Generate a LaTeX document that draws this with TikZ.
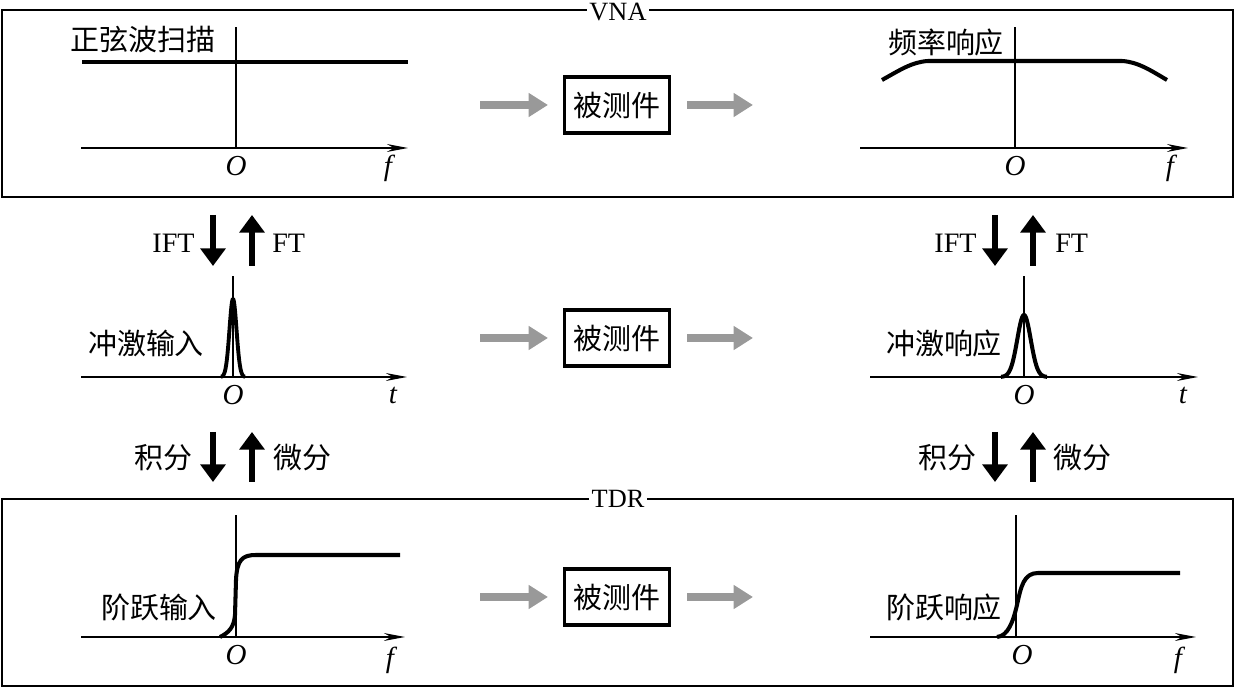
\documentclass[tikz,border=0pt]{standalone}
\usepackage{fontspec}
\setmainfont{Liberation Serif}
\newfontfamily\cjk{Noto Sans CJK SC}
\usetikzlibrary{arrows.meta}
\begin{document}
\begin{tikzpicture}[x=0.02cm,y=-0.02cm,
  frame/.style={draw,line width=0.6pt},
  framelabel/.style={fill=white,inner sep=1.5pt,font=\fontsize{15}{17}\selectfont},
  axis/.style={line width=0.7pt},
  axisarrow/.style={line width=0.7pt,-{Stealth[length=12pt,width=4.5pt,inset=4pt]}},
  curve/.style={line width=2.3pt,line join=round},
  cjklabel/.style={font=\cjk\fontsize{16.5}{18}\selectfont,inner sep=0pt},
  dut/.style={draw,line width=1.8pt,minimum width=2.1cm,minimum height=1.12cm,inner sep=0pt,font=\cjk\fontsize{16.5}{18}\selectfont},
  grayarrow/.style={draw=black!40,line width=5pt,-{Triangle[width=13pt,length=11pt]}},
  bigarrow/.style={line width=3.8pt,-{Triangle[width=14pt,length=10pt]}},
  mathlbl/.style={font=\itshape\fontsize{16.5}{18}\selectfont,inner sep=0pt},
  txtlbl/.style={font=\fontsize{16}{18}\selectfont,inner sep=0pt}
]
\useasboundingbox (0,0) rectangle (1235,688);

% frames
\draw[frame] (2,10) rectangle (1233,197);
\node[framelabel] (vna) at (618,12) {VNA};
\draw[frame] (2,499) rectangle (1233,686);
\node[framelabel] (tdr) at (618,499) {TDR};

% ---------- top row ----------
\coordinate (a1s) at (81,148); \coordinate (a1e) at (408,148);
\coordinate (v1b) at (236,148); \coordinate (v1t) at (236,27);
\draw[axisarrow] (a1s) -- (a1e);
\draw[axis] (v1b) -- (v1t);
\draw[curve] (82,62) -- (408,62);
\node[cjklabel] (l1) at (143,40) {正弦波扫描};
\node[mathlbl] (o1) at (236,166) {O};
\node[mathlbl] (f1) at (388,168) {f};

\node[dut] (dut1) at (617,105) {被测件};
\coordinate (g1a) at (480,105); \coordinate (g1b) at (548,105);
\coordinate (g1c) at (687,105); \coordinate (g1d) at (753,105);
\draw[grayarrow] (g1a) -- (g1b);
\draw[grayarrow] (g1c) -- (g1d);

\coordinate (a2s) at (860,148); \coordinate (a2e) at (1188,148);
\coordinate (v2b) at (1015,148); \coordinate (v2t) at (1015,27);
\draw[axisarrow] (a2s) -- (a2e);
\draw[axis] (v2b) -- (v2t);
\draw[curve] (882,80) .. controls (900,70) and (912,62) .. (928,61) -- (1122,61) .. controls (1138,62) and (1150,70) .. (1167,80);
\node[cjklabel] (l2) at (946,42) {频率响应};
\node[mathlbl] (o2) at (1015,166) {O};
\node[mathlbl] (f2) at (1170,168) {f};

% ---------- FT arrows ----------
\coordinate (d1t) at (213,215); \coordinate (d1b) at (213,266);
\coordinate (u1b) at (252,266); \coordinate (u1t) at (252,215);
\draw[bigarrow] (d1t) -- (d1b);
\draw[bigarrow] (u1b) -- (u1t);
\node[txtlbl,anchor=east] (ift1) at (195,243) {IFT};
\node[txtlbl,anchor=west] (ft1) at (272,243) {FT};

\coordinate (d2t) at (995,215); \coordinate (d2b) at (995,266);
\coordinate (u2b) at (1033,266); \coordinate (u2t) at (1033,215);
\draw[bigarrow] (d2t) -- (d2b);
\draw[bigarrow] (u2b) -- (u2t);
\node[txtlbl,anchor=east] (ift2) at (977,243) {IFT};
\node[txtlbl,anchor=west] (ft2) at (1055,243) {FT};

% ---------- middle row ----------
\coordinate (a3s) at (81,377); \coordinate (a3e) at (407,377);
\coordinate (v3b) at (233,377); \coordinate (v3t) at (233,276);
\draw[axisarrow] (a3s) -- (a3e);
\draw[axis] (v3b) -- (v3t);
\draw[curve,line width=2.2pt] plot[domain=-12:12,samples=61,smooth] ({233+\x},{377-78*exp(-(\x/5)^2)});
\node[cjklabel] (l3) at (146,343) {冲激输入};
\node[mathlbl] (o3) at (233,395) {O};
\node[mathlbl] (t3) at (393,395) {t};

\node[dut] (dut2) at (617,338) {被测件};
\coordinate (g2a) at (480,338); \coordinate (g2b) at (548,338);
\coordinate (g2c) at (687,338); \coordinate (g2d) at (753,338);
\draw[grayarrow] (g2a) -- (g2b);
\draw[grayarrow] (g2c) -- (g2d);

\coordinate (a4s) at (870,377); \coordinate (a4e) at (1198,377);
\coordinate (v4b) at (1024,377); \coordinate (v4t) at (1024,276);
\draw[axisarrow] (a4s) -- (a4e);
\draw[axis] (v4b) -- (v4t);
\draw[curve] plot[domain=-23:23,samples=61,smooth] ({1024+\x},{377-62*exp(-(\x/9.5)^2)});
\node[cjklabel] (l4) at (944,343) {冲激响应};
\node[mathlbl] (o4) at (1024,395) {O};
\node[mathlbl] (t4) at (1183,395) {t};

% ---------- integral arrows ----------
\coordinate (d3t) at (213,432); \coordinate (d3b) at (213,482);
\coordinate (u3b) at (252,482); \coordinate (u3t) at (252,432);
\draw[bigarrow] (d3t) -- (d3b);
\draw[bigarrow] (u3b) -- (u3t);
\node[cjklabel,anchor=east] (int1) at (193,458) {积分};
\node[cjklabel,anchor=west] (dif1) at (273,458) {微分};

\coordinate (d4t) at (995,432); \coordinate (d4b) at (995,482);
\coordinate (u4b) at (1033,482); \coordinate (u4t) at (1033,432);
\draw[bigarrow] (d4t) -- (d4b);
\draw[bigarrow] (u4b) -- (u4t);
\node[cjklabel,anchor=east] (int2) at (977,458) {积分};
\node[cjklabel,anchor=west] (dif2) at (1053,458) {微分};

% ---------- bottom row ----------
\coordinate (a5s) at (81,637); \coordinate (a5e) at (405,637);
\coordinate (v5b) at (236,637); \coordinate (v5t) at (236,515);
\draw[axisarrow] (a5s) -- (a5e);
\draw[axis] (v5b) -- (v5t);
\draw[curve] (220,637) .. controls (228,633) and (234,628) .. (235,615) -- (236,580) .. controls (237,560) and (242,555) .. (256,555) -- (400,555);
\node[cjklabel] (l5) at (159,607) {阶跃输入};
\node[mathlbl] (o5) at (236,655) {O};
\node[mathlbl] (f5) at (390,660) {f};

\node[dut] (dut3) at (617,597) {被测件};
\coordinate (g3a) at (480,597); \coordinate (g3b) at (548,597);
\coordinate (g3c) at (687,597); \coordinate (g3d) at (753,597);
\draw[grayarrow] (g3a) -- (g3b);
\draw[grayarrow] (g3c) -- (g3d);

\coordinate (a6s) at (870,637); \coordinate (a6e) at (1196,637);
\coordinate (v6b) at (1016,637); \coordinate (v6t) at (1016,515);
\draw[axisarrow] (a6s) -- (a6e);
\draw[axis] (v6b) -- (v6t);
\draw[curve] (997,637) .. controls (1008,636) and (1013,622) .. (1017,605) .. controls (1021,586) and (1024,573) .. (1038,573) -- (1180,573);
\node[cjklabel] (l6) at (944,607) {阶跃响应};
\node[mathlbl] (o6) at (1022,655) {O};
\node[mathlbl] (f6) at (1178,660) {f};
\end{tikzpicture}
\end{document}
